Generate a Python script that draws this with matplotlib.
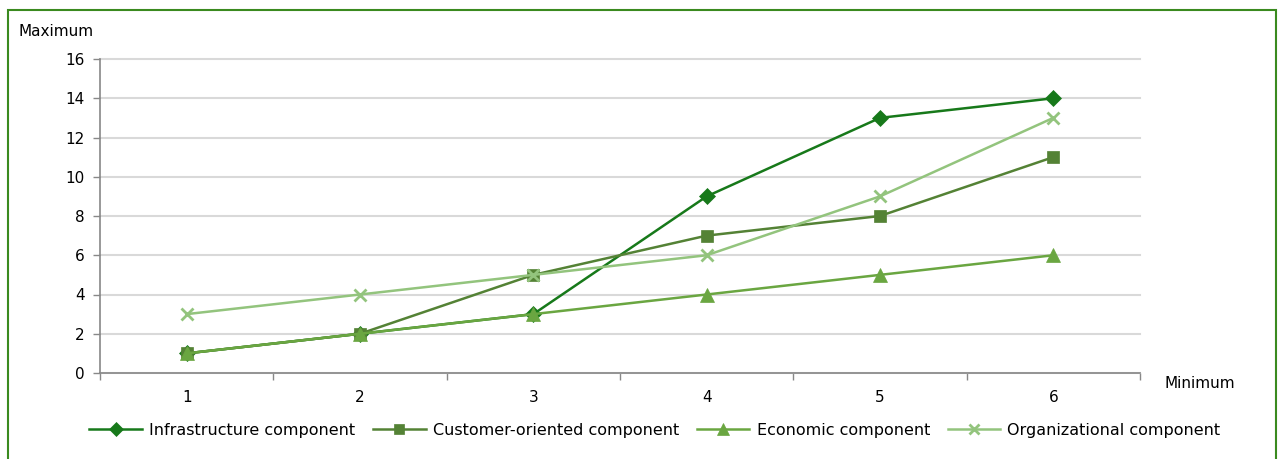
import matplotlib
matplotlib.use("Agg")
import matplotlib.pyplot as plt
from matplotlib.patches import Rectangle
from matplotlib.ticker import FixedLocator

categories = [1, 2, 3, 4, 5, 6]
infrastructure = [1, 2, 3, 9, 13, 14]
customer = [1, 2, 5, 7, 8, 11]
economic = [1, 2, 3, 4, 5, 6]
organizational = [3, 4, 5, 6, 9, 13]
y_ticks = [0, 2, 4, 6, 8, 10, 12, 14, 16]

plt.rcParams['font.family'] = ['DejaVu Sans']
fig = plt.figure(figsize=(12.79, 4.59), dpi=100)
fig.patches.append(Rectangle((8/1279, -0.01), 1268/1279, (459-10)/459 + 0.01, transform=fig.transFigure,
                             fill=False, edgecolor='#3a8a1f', linewidth=1.5))
ax = fig.add_axes([100/1279, 1-373/459, 1040/1279, 314/459])

x = list(range(len(categories)))
series = [
    (infrastructure, 'Infrastructure component', '#17791a', 'D', 8),
    (customer, 'Customer-oriented component', '#548235', 's', 9),
    (economic, 'Economic component', '#6aa641', '^', 9.5),
    (organizational, 'Organizational component', '#93c47d', 'x', 9),
]
for vals, lab, col, mk, ms in series:
    kw = dict(markeredgewidth=2) if mk == 'x' else dict(markeredgewidth=0.5, markeredgecolor=col)
    ax.plot(x, vals, color=col, linewidth=1.8, marker=mk, markersize=ms, markerfacecolor=col, label=lab, **kw)

ax.set_xlim(-0.5, len(categories) - 0.5)
ax.set_ylim(0, 16)
ax.set_yticks(y_ticks)
ax.set_xticks(x)
ax.set_xticklabels([str(c) for c in categories])
ax.xaxis.set_minor_locator(FixedLocator([i - 0.5 for i in range(len(categories) + 1)]))
ax.tick_params(axis='x', which='major', length=0, pad=12, labelsize=11)
ax.tick_params(axis='x', which='minor', length=5, color='#888888', width=1)
ax.tick_params(axis='y', length=5, color='#888888', width=1, labelsize=11, pad=6)
ax.grid(axis='y', color='#d9d9d9', linewidth=1.5)
for gl in ax.get_ygridlines():
    gl.set_clip_on(False)
ax.set_axisbelow(True)
for s in ['top', 'right']:
    ax.spines[s].set_visible(False)
for s in ['left', 'bottom']:
    ax.spines[s].set_color('#888888')
    ax.spines[s].set_linewidth(1.2)

fig.text(18/1279, 1-32/459, 'Maximum', fontsize=11, va='center', ha='left')
fig.text(1165/1279, 1-383/459, 'Minimum', fontsize=11, va='center', ha='left')

fig.legend(loc='center', bbox_to_anchor=(655/1279, 1-430/459), ncol=4, frameon=False,
           fontsize=11.5, handlelength=3.3, handletextpad=0.45, columnspacing=1.1, borderaxespad=0,
           markerscale=0.85)

fig.savefig('out.png', dpi=100)
